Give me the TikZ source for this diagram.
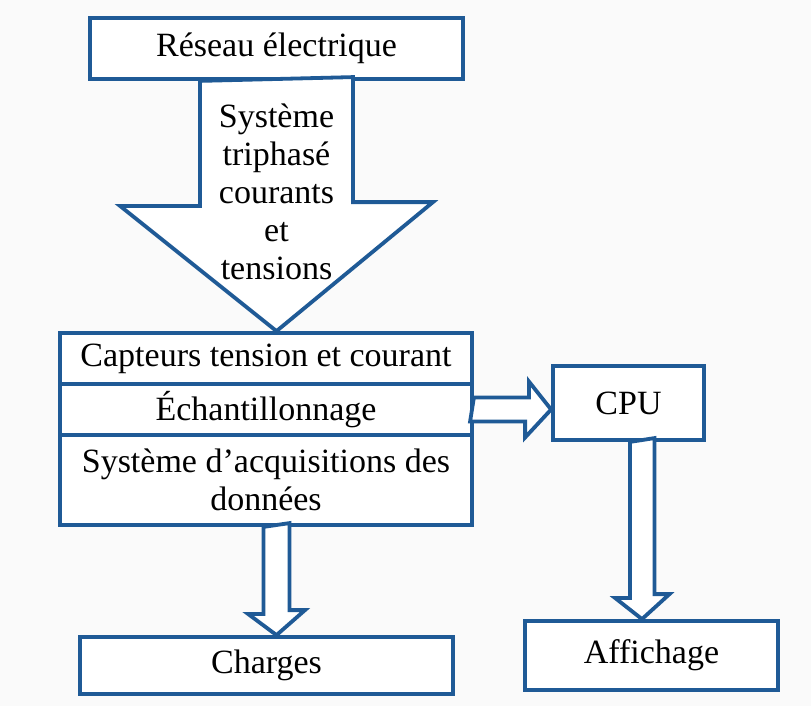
\documentclass[tikz,border=0pt]{standalone}
\usepackage{fontspec}
\setmainfont{Liberation Serif}
\usetikzlibrary{calc}
\definecolor{bleu}{RGB}{31,90,150}
\begin{document}
\begin{tikzpicture}[
        x=1pt, y=-1pt,
        boite/.style={draw=bleu, line width=3.8pt, fill=white, inner sep=0pt, align=center,
            font=\fontsize{34}{38}\selectfont},
        fleche/.style={draw=bleu, line width=3.8pt, fill=white, line join=miter}
    ]
    \fill[gray!4] (0,0) rectangle (811,706);
    \useasboundingbox (0,0) rectangle (811,706);
    \node[boite, minimum width=373, minimum height=61] (reseau) at (276.5,48.5) {Réseau électrique};
    \node[boite, minimum width=412, minimum height=51] (capteurs) at (266,358.5) {Capteurs tension et courant};
    \node[boite, minimum width=412, minimum height=51] (echant) at (266,409.5) {Échantillonnage};
    \node[boite, minimum width=412, minimum height=90] (acq) at (266,480) {Système d’acquisitions des\\données};
    \node[boite, minimum width=151, minimum height=74] (cpu) at (628.5,403) {CPU};
    \node[boite, minimum width=373, minimum height=57] (charges) at (266.5,665.5) {Charges};
    \node[boite, minimum width=253, minimum height=69] (affichage) at (651.5,655.5) {Affichage};
    \draw[fleche] (reseau.south) ++(-76.5,0) -- ++(0,125) -- ++(-80,0) -- (capteurs.north -| reseau.south)
        -- ++(156.5,-129) -- ++(-80,0) -- ++(0,-125) -- cycle;
    \node[align=center, inner sep=0pt, font=\fontsize{34}{38}\selectfont] (flux) at (276.5,192)
        {Système\\triphasé\\courants\\et\\tensions};
    \draw[fleche] (echant.east) ++(0,-12) -- ++(55,0) -- ++(0,-16) -- (echant.east -| cpu.west)
        -- ++(-26,28) -- ++(0,-16) -- ++(-55,0) -- cycle;
    \draw[fleche] (acq.south -| reseau.south) ++(-13,0) -- ++(0,87) -- ++(-15.5,0) -- (charges.north -| reseau.south)
        -- ++(28.5,-25) -- ++(-15.5,0) -- ++(0,-87) -- cycle;
    \draw[fleche] ($(cpu.south)+(1.5,0)$) -- ++(0,156) -- ++(-15,0) -- ($(affichage.north)+(-9.5,0)$)
        -- ++(27.5,-25) -- ++(-15,0) -- ++(0,-156) -- cycle;
\end{tikzpicture}
\end{document}
